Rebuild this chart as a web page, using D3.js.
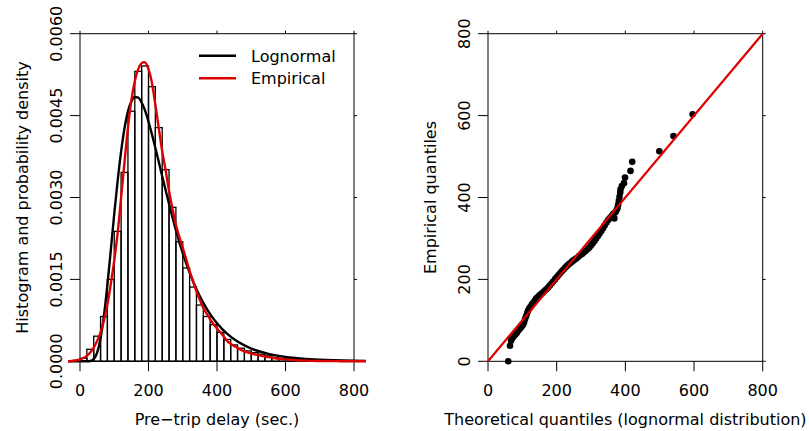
<!DOCTYPE html>
<html><head><meta charset="utf-8">
<script src="https://cdn.jsdelivr.net/npm/d3@7"></script>
<style>body{margin:0;background:#fff}</style>
</head><body>
<script>
// ---------- data ----------
const histLower = [0,20,40,60,80,100,120,140,160,180,200,220,240,260,280,300,320,340,360,380,400,420,440,460,480,500,520,540,560,580,600,620,640,660,680,700,720,740,760,780,800];
const histDensity = [0.000055,0.00022,0.00046,0.00082,0.00150,0.00238,0.00346,0.00458,0.00531,0.00541,0.00503,0.00428,0.00351,0.00282,0.00219,0.00171,0.00136,0.00103,0.00082,0.00067,0.00053,0.00040,0.00030,0.00024,0.00019,0.00016,0.00013,0.00010,0.000073,0.000055,0.000045,0.00004,0.00003,0.00002,0.000015,0.00001,0.000008,0.000005,0.000003,0.000002,0.000001];
const binWidth = 20;

const lognormX = [-35,20,30,40,50,60,70,80,90,100,110,120,130,140,150,160,170,180,190,200,220,240,260,280,300,320,340,360,380,400,430,460,500,550,600,650,700,800,835];
const lognormY = [0,0,0.000005,0.00004,0.00016,0.00042,0.00084,0.0014,0.00204,0.0027,0.00331,0.00384,0.00427,0.00458,0.00476,0.00484,0.00483,0.00474,0.00459,0.00439,0.00391,0.00339,0.00288,0.0024,0.00198,0.001625,0.00132,0.00107,0.000864,0.000697,0.000502,0.000362,0.000234,0.000136,0.00008,0.000048,0.000029,0.000011,0.000008];

const empX = [-35,-25,-10,0,10,20,30,40,50,60,70,80,90,100,110,120,130,140,150,160,170,180,188,195,200,210,220,230,240,250,260,270,280,290,300,310,320,330,340,350,360,375,390,400,414,430,453,470,491,515,540,565,589,620,660,700,760,835];
const empY = [0,0.000005,0.00002,0.00003,0.00006,0.0001,0.00016,0.00025,0.00037,0.00053,0.00075,0.00104,0.00142,0.00185,0.00235,0.00300,0.00365,0.00428,0.00478,0.00513,0.00535,0.00546,0.00548,0.00543,0.00535,0.00510,0.00470,0.00427,0.00385,0.00350,0.00312,0.00280,0.00250,0.00228,0.00208,0.00187,0.00165,0.00147,0.00128,0.00112,0.00098,0.00082,0.00068,0.00060,0.00050,0.00037,0.00027,0.00021,0.000158,0.00012,0.000085,0.00006,0.00004,0.000025,0.000012,0.000006,0.000002,0];

const qqTheoretical = [59,64,67,69,72,75,78,81,84,87,90,93,96,99,102,105,108,111,114,117,120,124,128,132,136,140,145,150,155,160,165,170,175,180,185,190,195,200,205,210,215,220,225,230,235,240,245,250,255,260,265,270,275,280,285,290,295,300,305,310,315,320,325,330,335,340,345,350,355,360,365,368,371,374,377,379,381,383,385,386,390,396,399,415,420,499,540,596];
const qqEmpirical  = [0,38,50,55,58,62,64,67,70,74,77,80,83,86,89,95,103,110,118,124,129,134,139,143,148,153,157,161,165,168,172,176,180,185,190,195,200,205,210,215,220,224,229,233,237,240,244,247,250,253,257,260,263,267,270,274,278,283,288,294,300,306,312,318,325,332,339,345,350,355,360,349,364,368,374,382,392,402,412,420,428,435,449,465,487,513,550,603];

const xTicks = [0,200,400,600,800];
const xTickLabels = ["0","200","400","600","800"];
const yTicksL = [0,0.0015,0.003,0.0045,0.006];
const yTickLabelsL = ["0.0000","0.0015","0.0030","0.0045","0.0060"];
const yTicksR = [0,200,400,600,800];
const yTickLabelsR = ["0","200","400","600","800"];
const legendLabels = ["Lognormal","Empirical"];
const legendColors = ["#000000","#dd0000"];

// ---------- drawing ----------
const W = 809, H = 431;
const FONT = "DejaVu Sans, Verdana, sans-serif";
const RED = "#dd0000";
const svg = d3.select("body").append("svg").attr("width", W).attr("height", H)
  .style("background","#fff");

const xL = d3.scaleLinear().domain([0,800]).range([80,354]);
const yL = d3.scaleLinear().domain([0,0.006]).range([361.3,33.7]);
const xR = d3.scaleLinear().domain([0,800]).range([488,762.7]);
const yR = d3.scaleLinear().domain([0,800]).range([361.3,33.7]);

function frame(g, xs, ys, xt, yt, xlab, ylab, tickLabY, tickLabX) {
  const [x0,x1] = xs.range(), [y0,y1] = ys.range();
  // box
  g.append("rect").attr("x",x0).attr("y",y1).attr("width",x1-x0).attr("height",y0-y1)
    .attr("fill","none").attr("stroke","#000").attr("stroke-width",1);
  // bottom ticks & labels
  xt.forEach((v,i)=>{
    g.append("line").attr("x1",xs(v)).attr("x2",xs(v)).attr("y1",y0).attr("y2",y0+10).attr("stroke","#000");
    g.append("line").attr("x1",xs(v)).attr("x2",xs(v)).attr("y1",y1).attr("y2",y1-3).attr("stroke","#000");
    g.append("text").attr("x",xs(v)).attr("y",396).attr("text-anchor","middle")
      .attr("font-family",FONT).attr("font-size",16).text(xlab[i]);
  });
  yt.forEach((v,i)=>{
    g.append("line").attr("x1",x0).attr("x2",x0-10).attr("y1",ys(v)).attr("y2",ys(v)).attr("stroke","#000");
    g.append("line").attr("x1",x1).attr("x2",x1+3).attr("y1",ys(v)).attr("y2",ys(v)).attr("stroke","#000");
    g.append("text").attr("transform",`translate(${x0-18},${ys(v)}) rotate(-90)`).attr("text-anchor","middle")
      .attr("font-family",FONT).attr("font-size",16).text(ylab[i]);
  });
}

// ---- left panel ----
const gL = svg.append("g");
// histogram
gL.selectAll("rect.bar").data(histLower).join("rect").attr("class","bar")
  .attr("x", d=>xL(d)).attr("width", d=>xL(d+binWidth)-xL(d))
  .attr("y", (d,i)=>yL(histDensity[i])).attr("height",(d,i)=>yL(0)-yL(histDensity[i]))
  .attr("fill","none").attr("stroke","#000").attr("stroke-width",1.3);
// baseline of zero-height part
gL.append("line").attr("x1",xL(-35)).attr("x2",xL(835)).attr("y1",yL(0)).attr("y2",yL(0))
  .attr("stroke","#000").attr("stroke-width",1.3);

frame(gL, xL, yL, xTicks, yTicksL, xTickLabels, yTickLabelsL);

const lineL = d3.line().x(d=>xL(d[0])).y(d=>yL(d[1])).curve(d3.curveMonotoneX);
gL.append("path").attr("d", lineL(lognormX.map((x,i)=>[x,lognormY[i]])))
  .attr("fill","none").attr("stroke","#000").attr("stroke-width",2.4);
gL.append("path").attr("d", lineL(empX.map((x,i)=>[x,empY[i]])))
  .attr("fill","none").attr("stroke",RED).attr("stroke-width",2.4);

// legend
legendLabels.forEach((t,i)=>{
  const ly = 55.7 + i*22.6;
  gL.append("line").attr("x1",199).attr("x2",236).attr("y1",ly).attr("y2",ly)
    .attr("stroke",legendColors[i]).attr("stroke-width",2.4);
  gL.append("text").attr("x",251).attr("y",ly+5.8).attr("font-family",FONT).attr("font-size",16).text(t);
});

gL.append("text").attr("x",217).attr("y",425).attr("text-anchor","middle")
  .attr("font-family",FONT).attr("font-size",16).text("Pre\u2212trip delay (sec.)");
gL.append("text").attr("transform","translate(28,197.5) rotate(-90)").attr("text-anchor","middle")
  .attr("font-family",FONT).attr("font-size",16).text("Histogram and probability density");

// ---- right panel ----
const gR = svg.append("g");
frame(gR, xR, yR, xTicks, yTicksR, xTickLabels, yTickLabelsR);
gR.selectAll("circle").data(qqTheoretical).join("circle")
  .attr("cx", d=>xR(d)).attr("cy",(d,i)=>yR(qqEmpirical[i])).attr("r",3.3).attr("fill","#000");
gR.append("line").attr("x1",xR(0)).attr("y1",yR(0)).attr("x2",xR(800)).attr("y2",yR(800))
  .attr("stroke",RED).attr("stroke-width",2.2);
gR.append("text").attr("x",625.4).attr("y",425).attr("text-anchor","middle")
  .attr("font-family",FONT).attr("font-size",16).text("Theoretical quantiles (lognormal distribution)");
gR.append("text").attr("transform","translate(436,197.5) rotate(-90)").attr("text-anchor","middle")
  .attr("font-family",FONT).attr("font-size",16).text("Empirical quantiles");
</script>
</body></html>
